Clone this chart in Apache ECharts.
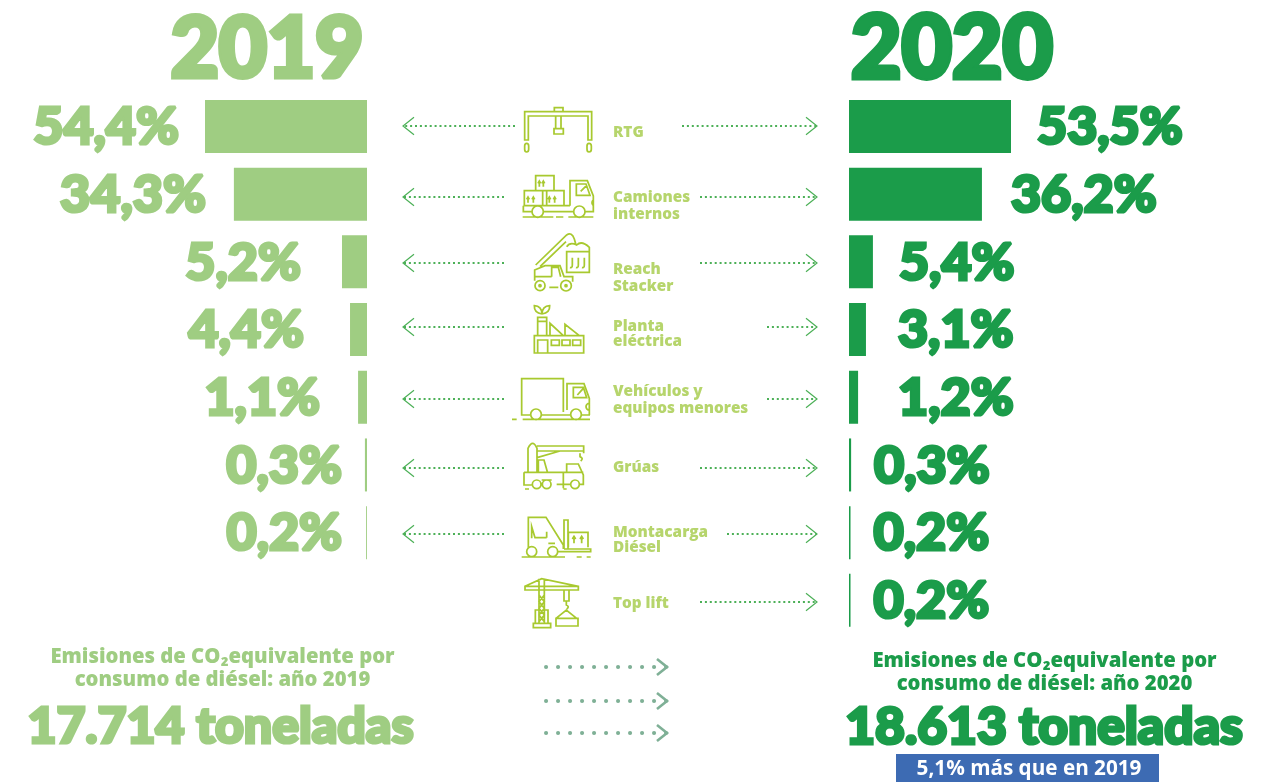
<!DOCTYPE html>
<html><head><meta charset="utf-8">
<style>html,body{margin:0;padding:0;background:#fff}#c{width:1281px;height:782px}</style>
<script src="https://cdn.jsdelivr.net/npm/echarts@6/dist/echarts.min.js"></script>
</head><body><div id="c"></div>
<script>
// ---- data ----
const categories = [['RTG'],['Camiones','internos'],['Reach','Stacker'],['Planta','eléctrica'],['Vehículos y','equipos menores'],['Grúas'],['Montacarga','Diésel'],['Top lift']];
const labels2019 = ['54,4%','34,3%','5,2%','4,4%','1,1%','0,3%','0,2%',''];
const labels2020 = ['53,5%','36,2%','5,4%','3,1%','1,2%','0,3%','0,2%','0,2%'];
// bar lengths as drawn in the picture (percent scale of the top bar; the drawing is not to scale with its labels)
const bars2019 = [54.4,44.7,8.4,5.7,3.0,0.7,0.3,null];
const bars2020 = [53.5,43.9,7.9,5.6,3.0,0.7,0.5,0.5];
const years = ['2019','2020'];
const totalTitle2019 = ['Emisiones de CO₂equivalente por','consumo de diésel: año 2019'];
const totalTitle2020 = ['Emisiones de CO₂equivalente por','consumo de diésel: año 2020'];
const total2019 = '17.714 toneladas';
const total2020 = '18.613 toneladas';
const change = '5,1% más que en 2019';

// ---- layout ----
const C19='#9fcd82', C20='#1b9c4a', LINE='#a8c92f', TXT='#b6d56c', ARW='#4cb057', ARW2='#7fb096';
const HEAVY='Lato';
const gap19=[27,29,42,47,39,24,25,0], gap20=[27,30,27,33,41,24,24,24];
const labelY=[132.5,206,278,334,400,467.5,540,603.5];
const labelLH=[0,17,17,15,17,0,15,0];
const arrowY=[126,197,263,327,399,468,534,602];
const leftEnd=[515,504,504,504,504,504,504,null];
const rightStart=[682,700,700,767,767,700,727,700];
const g=[];
function text(t,x,y,size,color,align,opt){
  g.push({type:'text',x,y,silent:true,style:Object.assign({text:t,fontFamily:'"Open Sans"',fontWeight:700,fontSize:size,fill:color,align:align,verticalAlign:'middle'},opt||{})});
}
categories.forEach((c,i)=>{
  const lh=labelLH[i], y0=labelY[i]-lh/2*(c.length-1);
  c.forEach((s,j)=>text(s,613,y0+j*lh,15.3,TXT,'left',{fontFamily:'"Open Sans"',fontWeight:800}));
});
function arrow(x1,x2,y,col,lw,dash,h,hw,cap){
  const dir=x2>x1?1:-1;
  g.push({type:'line',silent:true,shape:{x1,y1:y,x2,y2:y},style:{stroke:col,lineWidth:lw,lineDash:dash,lineCap:cap||'butt'}});
  g.push({type:'polyline',silent:true,shape:{points:[[x2-dir*h,y-h*.8],[x2,y],[x2-dir*h,y+h*.8]]},style:{stroke:col,lineWidth:hw,fill:null}});
}
arrowY.forEach((y,i)=>{
  if(leftEnd[i]!=null) arrow(leftEnd[i],403,y,ARW,2,[2,2.9],11,1.2);
  arrow(rightStart[i],817,y,ARW,2,[2,2.9],11,1.2);
});
[667,701,733].forEach(y=>arrow(546,667,y,ARW2,4,[0.1,11.9],10,2.6,'round'));
// icons, written in 3x crop units
const iconsA=[
 'M404 150V65H605V150H594V78H415V150ZM493 65V53H519V65M497 78V116M513 78V116M492 116H520V132H492ZM410 160Q416 160 416 168V178Q416 186 410 186Q404 186 404 178V168Q404 160 410 160ZM597 160Q604 160 604 168V178Q604 186 597 186Q591 186 591 178V168Q591 160 597 160Z',
 'M437 302V257H492V302M403 347V302H522V347M458 302V347M470 302V347M448 290V274M460 290V274M444 280L448 273L452 280M456 280L460 273L464 280M414 338V322M430 338V322M410 328L414 321L418 328M426 328L430 321L434 328M478 338V322M494 338V322M474 328L478 321L482 328M490 328L494 321L498 328M540 347V272H592L610 318V365H586M400 347H540M400 347V365H425M460 365H550M559 282H588L600 316H559ZM572 304L590 286M610 330A10 10 0 0 0 610 346M443 348A17 17 0 1 0 443.1 348M568 348A17 17 0 1 0 568.1 348M398 381H490M498 381H520M535 381H610',
 'M437 525L530 435Q545 425 553 447L558 465M450 530L528 455M530 485H598V547H530ZM530 470Q540 455 560 465Q575 450 598 472V485H530M547 503V525Q547 535 540 532M565 503V525Q565 535 558 532M583 503V525Q583 535 576 532M434 572V540L465 527H510L522 560H548V575M485 560V532H505L512 560M434 560H485M450 572A15 15 0 1 0 450.1 572M450 584A3 3 0 1 0 450.1 584M528 571A16 16 0 1 0 528.1 571M528 584A3 3 0 1 0 528.1 584M478 592H505',
 'M433 789V737H581V789ZM443 737V682H470V737M443 694H470M480 737V700L520 737M525 737V703L568 737M484 750H508V766H484ZM516 750H540V766H516ZM548 750H572V766H548ZM443 789V750H473V789M456 672Q432 668 433 647Q455 648 456 672M456 672Q480 668 479 647Q457 648 456 672'
];
const iconsB=[
 'M395 141V41H520V141M531 135V56H582L598 100V150M550 67H580L590 98H550ZM562 90L580 70M598 115A10 10 0 0 0 598 135M395 141V150H420M455 150H540M575 150H600M438 132A16 16 0 1 0 438.1 132M558 132A16 16 0 1 0 558.1 132M366 163H380M398 163H600',
 'M414 320V250Q428 220 441 250V320M441 243H581V265M441 258H581M441 278L510 258M570 265V275Q582 280 572 288M445 320V285H462L472 320M530 322V297H565L580 330V358H570M402 322H580M402 322V360H425M455 345H485M520 322V370M540 358H500M440 345A13 13 0 1 0 440.1 345M470 345A13 13 0 1 0 470.1 345M555 345A13 13 0 1 0 555.1 345M405 372H417M520 372H530',
 'M415 548V457H468L520 540V552M415 457H425M425 520V485L435 518H470M470 518L470 500M522 552V465H534V552M522 552H602V560H505M535 547V502H594V547M552 535V515M575 535V515M547 522L552 514L557 522M570 522L575 514L580 522M475 535H495M425 545A15 15 0 1 0 425.1 545M488 545A15 15 0 1 0 488.1 545M395 576H525M560 576H575M590 576H602',
 'M405 664H565V675H405ZM405 664L455 641L565 664M447 641V775M463 641V775M447 690L463 710L447 730L463 750L447 770M463 690L447 710L463 730L447 750L463 770M436 775V735H447M474 775V735H463M430 775H482V788H430ZM522 675V708H537V675M529 708V720Q540 725 530 732M498 760L529 735L560 760M498 760H564V783H498Z'
];
function icon(list,ox,oy,tag){
  list.forEach((d,i)=>{
    const name='icon'+tag+i;
    echarts.graphic.registerShape(name,echarts.graphic.extendPath(d,{}));
    g.push({type:name,silent:true,x:ox,y:oy,scaleX:1/3,scaleY:1/3,style:{fill:null,stroke:LINE,lineWidth:5.2}});
  });
}
icon(iconsA,390,90,'A'); icon(iconsB,390,365,'B');

// totals
totalTitle2019.forEach((s,i)=>text(s,222.5,657+i*23,20.3,C19,'center',{fontFamily:'"Open Sans"',fontWeight:800}));
totalTitle2020.forEach((s,i)=>text(s,1044.5,661+i*23,20.3,C20,'center',{fontFamily:'"Open Sans"',fontWeight:800}));
text(total2019,220.5,727,50,C19,'center',{fontFamily:HEAVY,fontWeight:900,stroke:C19,lineWidth:3.2});
text(total2020,1044,727,51.5,C20,'center',{fontFamily:HEAVY,fontWeight:900,stroke:C20,lineWidth:3.2});
g.push({type:'rect',silent:true,z:1,shape:{x:896,y:754,width:263,height:28},style:{fill:'#3d6bb3'}});
g.push({type:'text',silent:true,z:2,x:1029,y:769,style:{text:change,fontFamily:'"Open Sans"',fontWeight:700,fontSize:20.7,fill:'#fff',align:'center',verticalAlign:'middle'}});

function series(name,vals,labs,gaps,pos,color,ai){
  return {type:'bar',name,xAxisIndex:ai,yAxisIndex:ai,barWidth:53,itemStyle:{color},animation:false,
    data:vals.map((v,i)=>({value:v,label:{distance:gaps[i]-1}})),
    label:{show:true,position:pos,offset:[0,1],formatter:p=>labs[p.dataIndex],fontFamily:HEAVY,fontWeight:900,fontSize:52,color,textBorderColor:color,textBorderWidth:3.2}};
}
const names=categories.map(c=>c.join(' '));
const chart=echarts.init(document.getElementById('c'),null,{renderer:'canvas'});
chart.setOption({
  animation:false,backgroundColor:'#fff',
  title:[
   {text:years[0],left:262,top:45,textAlign:'center',textVerticalAlign:'middle',textStyle:{fontFamily:HEAVY,fontWeight:900,fontSize:83,color:C19,textBorderColor:C19,textBorderWidth:5}},
   {text:years[1],left:947,top:45,textAlign:'center',textVerticalAlign:'middle',textStyle:{fontFamily:HEAVY,fontWeight:900,fontSize:87,color:C20,textBorderColor:C20,textBorderWidth:5}}
  ],
  grid:[{left:205,width:162,top:92.6,height:541.6},{left:849,width:162,top:92.6,height:541.6}],
  xAxis:[{type:'value',gridIndex:0,inverse:true,min:0,max:54.4,show:false},{type:'value',gridIndex:1,min:0,max:53.5,show:false}],
  yAxis:[{type:'category',gridIndex:0,inverse:true,data:names,show:false},{type:'category',gridIndex:1,inverse:true,data:names,show:false}],
  series:[series(years[0],bars2019,labels2019,gap19,'left',C19,0),series(years[1],bars2020,labels2020,gap20,'right',C20,1)],
  graphic:g
});
</script></body></html>
